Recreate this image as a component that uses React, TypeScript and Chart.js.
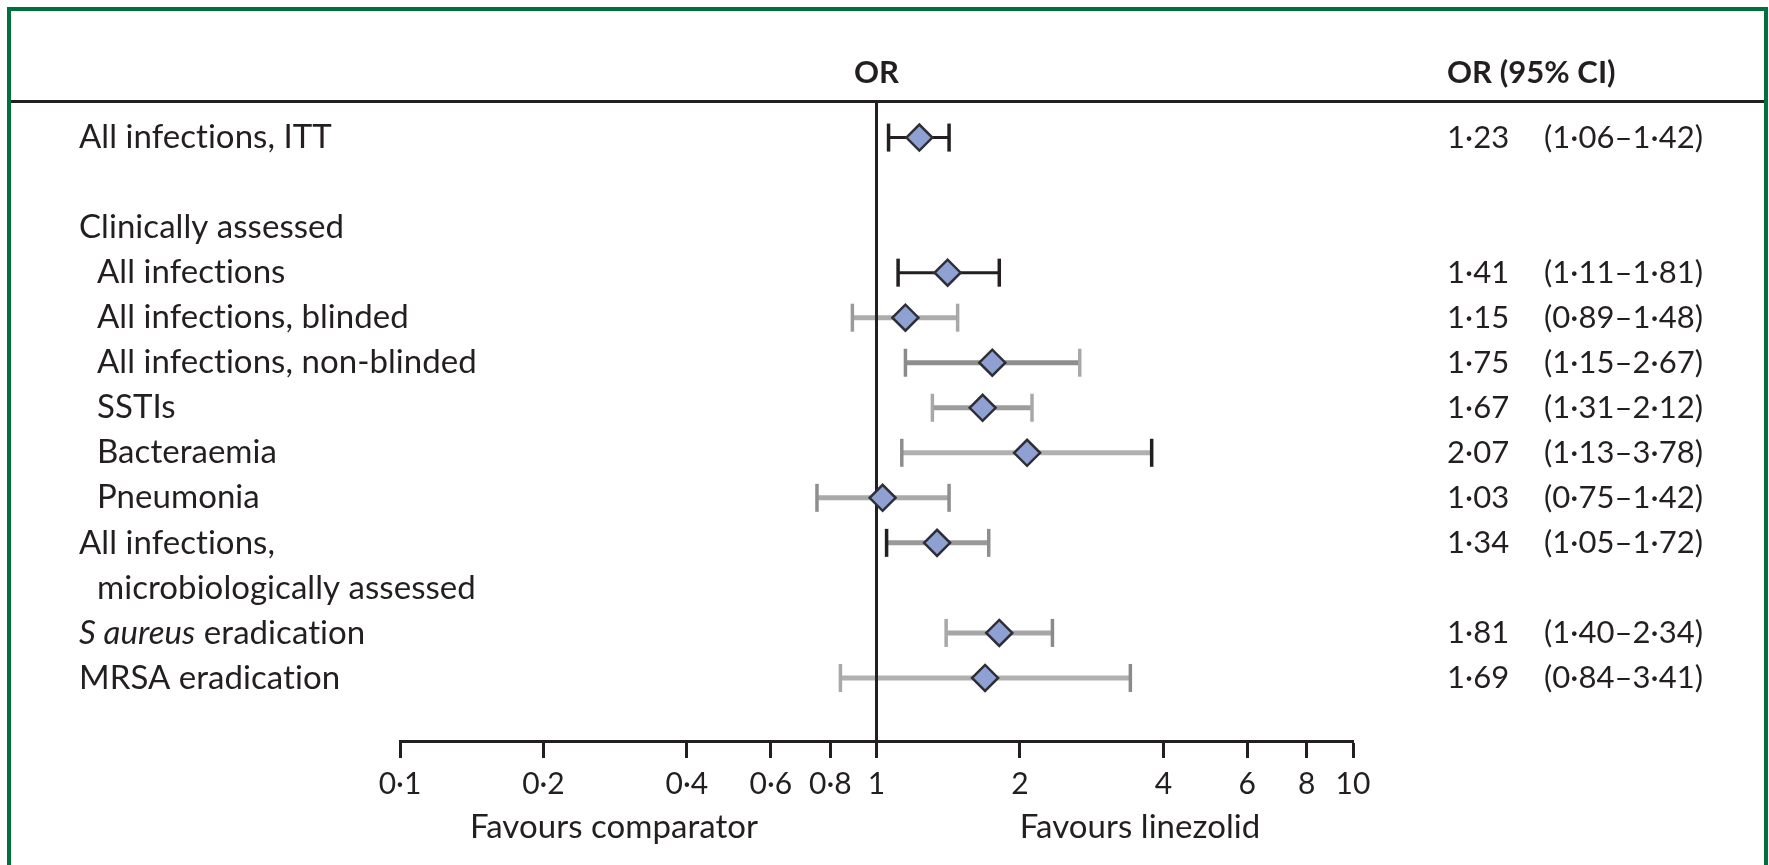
import React, { useEffect, useRef } from 'react';
import { Chart, registerables } from 'chart.js';

Chart.register(...registerables);

// ---------- data ----------
const rowLabels = [
  'All infections, ITT',
  '',
  'Clinically assessed',
  'All infections',
  'All infections, blinded',
  'All infections, non-blinded',
  'SSTIs',
  'Bacteraemia',
  'Pneumonia',
  'All infections,',
  'microbiologically assessed',
  'S aureus eradication',
  'MRSA eradication',
];
const rowIndented = [false, false, false, true, true, true, true, true, true, false, true, false, false];

const studyRows = [0, 3, 4, 5, 6, 7, 8, 9, 11, 12];
const orValues = [1.23, 1.41, 1.15, 1.75, 1.67, 2.07, 1.03, 1.34, 1.81, 1.69];
const ciLower = [1.06, 1.11, 0.89, 1.15, 1.31, 1.13, 0.75, 1.05, 1.40, 0.84];
const ciUpper = [1.42, 1.81, 1.48, 2.67, 2.12, 3.78, 1.42, 1.72, 2.34, 3.41];
const ciColors = ['#231f20', '#231f20', '#acacac', '#8e8e8e', '#9c9c9c', '#b0b0b0', '#a9a9a9', '#9a9a9a', '#a6a6a6', '#b0b0b0'];
const capLeftColors = ['#231f20', '#231f20', '#9a9a9a', '#8a8a8a', '#a8a8a8', '#8e8e8e', '#8e8e8e', '#231f20', '#a8a8a8', '#a8a8a8'];
const capRightColors = ['#231f20', '#231f20', '#a8a8a8', '#a8a8a8', '#a8a8a8', '#231f20', '#8e8e8e', '#8e8e8e', '#8a8a8a', '#8a8a8a'];

const xTicks = [0.1, 0.2, 0.4, 0.6, 0.8, 1, 2, 4, 6, 8, 10];

const W = 1769;
const H = 865;
const FONT = 'Lato, "Open Sans", sans-serif';
const TEXT = '#231f20';

const fmt = (v: number) => v.toFixed(2).replace('.', '·');
const fmtTick = (v: number) => String(v).replace('.', '·');

const forestPlugin = {
  id: 'forest',
  beforeDatasetsDraw(chart: any) {
    const { ctx, scales, chartArea } = chart;
    const xs = scales.x;
    const ys = scales.y;
    ctx.save();
    // CI bars
    studyRows.forEach((row, i) => {
      const y = ys.getPixelForValue(row);
      const x1 = xs.getPixelForValue(ciLower[i]);
      const x2 = xs.getPixelForValue(ciUpper[i]);
      const dark = ciColors[i] === '#231f20';
      ctx.strokeStyle = ciColors[i];
      ctx.lineWidth = dark ? 3 : 5;
      ctx.beginPath();
      ctx.moveTo(x1, y);
      ctx.lineTo(x2, y);
      ctx.stroke();
      ctx.lineWidth = 3.5;
      ctx.strokeStyle = capLeftColors[i];
      ctx.beginPath();
      ctx.moveTo(x1, y - 14);
      ctx.lineTo(x1, y + 14);
      ctx.stroke();
      ctx.strokeStyle = capRightColors[i];
      ctx.beginPath();
      ctx.moveTo(x2, y - 14);
      ctx.lineTo(x2, y + 14);
      ctx.stroke();
    });
    // reference line at OR = 1
    const x1 = xs.getPixelForValue(1);
    ctx.strokeStyle = TEXT;
    ctx.lineWidth = 3;
    ctx.beginPath();
    ctx.moveTo(x1, chartArea.top);
    ctx.lineTo(x1, chartArea.bottom);
    ctx.stroke();
    ctx.restore();
  },
  afterDraw(chart: any) {
    const { ctx, scales } = chart;
    const xs = scales.x;
    const ys = scales.y;
    ctx.save();
    // frame
    ctx.strokeStyle = '#00703c';
    ctx.lineWidth = 4;
    ctx.beginPath();
    ctx.moveTo(9, H + 5);
    ctx.lineTo(9, 9);
    ctx.lineTo(W - 3, 9);
    ctx.lineTo(W - 3, H + 5);
    ctx.stroke();
    // header rule
    ctx.strokeStyle = TEXT;
    ctx.lineWidth = 3;
    ctx.beginPath();
    ctx.moveTo(11, 101.5);
    ctx.lineTo(W - 5, 101.5);
    ctx.stroke();

    ctx.fillStyle = TEXT;
    ctx.textBaseline = 'middle';
    try {
      (ctx as any).letterSpacing = '0.05px';
    } catch (e) {}
    // headers
    ctx.font = `bold 31px ${FONT}`;
    ctx.textAlign = 'center';
    ctx.fillText('OR', xs.getPixelForValue(1), 73);
    ctx.textAlign = 'left';
    ctx.fillText('OR (95% CI)', 1447, 73);

    // row labels
    ctx.font = `33px ${FONT}`;
    rowLabels.forEach((label, r) => {
      if (!label) return;
      const y = ys.getPixelForValue(r);
      const x = rowIndented[r] ? 97 : 79;
      if (label.startsWith('S aureus')) {
        ctx.font = `italic 33px ${FONT}`;
        const part = 'S aureus';
        ctx.fillText(part, x, y);
        const w = ctx.measureText(part).width;
        ctx.font = `33px ${FONT}`;
        ctx.fillText(label.slice(part.length), x + w, y);
      } else {
        ctx.fillText(label, x, y);
      }
    });

    // right column values
    ctx.font = `31px ${FONT}`;
    studyRows.forEach((row, i) => {
      const y = ys.getPixelForValue(row);
      ctx.fillText(fmt(orValues[i]), 1447, y);
      ctx.fillText(`(${fmt(ciLower[i])}–${fmt(ciUpper[i])})`, 1544, y);
    });

    // favours labels
    ctx.font = `33px ${FONT}`;
    ctx.textAlign = 'center';
    ctx.fillText('Favours comparator', 614, 827);
    ctx.fillText('Favours linezolid', 1140, 827);
    ctx.restore();
  },
};

export default function App() {
  const ref = useRef<HTMLCanvasElement>(null);

  useEffect(() => {
    const canvas = ref.current;
    if (!canvas) return;
    const chart = new Chart(canvas, {
      type: 'scatter',
      data: {
        datasets: [
          {
            data: studyRows.map((row, i) => ({ x: orValues[i], y: row })),
            pointStyle: 'rectRot',
            pointRadius: 13,
            pointHoverRadius: 13,
            backgroundColor: '#8fa0d2',
            borderColor: '#2e2e36',
            borderWidth: 2.5,
          },
        ],
      },
      options: {
        animation: false,
        responsive: false,
        devicePixelRatio: 1,
        events: [],
        layout: { padding: { left: 400, right: W - 1353, top: 102, bottom: 0 } },
        plugins: { legend: { display: false }, tooltip: { enabled: false } },
        scales: {
          x: {
            type: 'logarithmic',
            min: 0.1,
            max: 10,
            afterBuildTicks: (scale: any) => {
              scale.ticks = xTicks.map((v) => ({ value: v }));
            },
            afterFit: (scale: any) => {
              scale.height = H - 741;
            },
            border: { display: true, color: TEXT, width: 3 },
            grid: {
              display: true,
              drawOnChartArea: false,
              drawTicks: true,
              tickLength: 17,
              tickWidth: 3,
              tickColor: TEXT,
              color: TEXT,
            },
            ticks: {
              autoSkip: false,
              maxRotation: 0,
              padding: 8,
              color: TEXT,
              font: { family: FONT, size: 30 },
              callback: (v: any) => fmtTick(Number(v)),
            },
          },
          y: {
            type: 'linear',
            reverse: true,
            min: -0.79,
            max: 13.4,
            display: false,
          },
        },
      },
      plugins: [forestPlugin],
    });
    return () => chart.destroy();
  }, []);

  return (
    <div style={{ position: 'fixed', left: 0, top: 0, width: W, height: H, background: '#fff' }}>
      <canvas ref={ref} width={W} height={H} style={{ display: 'block' }} />
    </div>
  );
}
